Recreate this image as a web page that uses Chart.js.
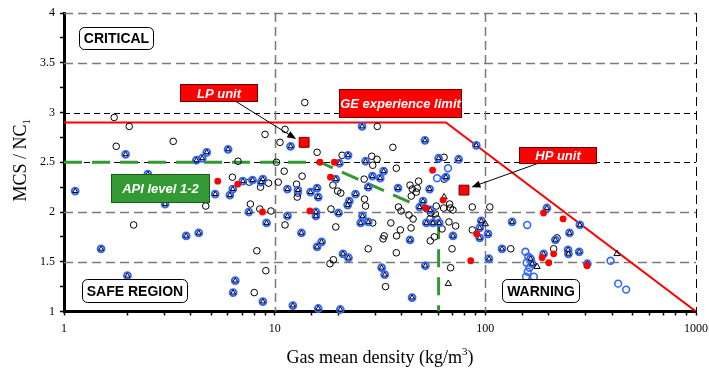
<!DOCTYPE html>
<html>
<head>
<meta charset="utf-8">
<script src="https://cdn.jsdelivr.net/npm/chart.js@4.4.0/dist/chart.umd.min.js"></script>
<style>
body{margin:0;background:#fff}
</style>
</head>
<body>
<canvas id="myChart" width="709" height="371"></canvas>
<script>
// points: [gas density, MCS/NC1]
const blackCircles = [
  [1.73,2.95],[2.04,2.86],[1.77,2.66],[3.3,2.71],[9.0,2.78],[10.6,2.70],[6.7,2.51],[10.2,2.50],[6.3,2.35],
  [7.57,2.30],[8.57,2.25],[9.35,2.29],[10.4,2.30],[4.71,2.06],[7.67,2.08],[8.5,2.03],[9.6,2.01],[2.14,1.87],
  [8.23,1.61],[9.08,1.41],[8.0,1.19],
  [13.9,3.10],[30.7,2.86],[11.2,2.83],[15.9,2.60],[20.9,2.57],[28.9,2.56],[30.6,2.53],[29.2,2.47],[11.1,2.41],
  [13.5,2.36],[12.7,2.28],[12.9,2.19],[12.8,2.15],[18.9,2.27],[19.9,2.21],[20.6,2.19],[26.6,2.33],[26.7,2.13],
  [27.0,2.06],[18.5,2.03],[11.2,1.87],[19.5,1.85],[29.2,1.89],[27.8,1.63],[19.0,1.52],[18.3,1.48],[33.6,1.25],
  [33.1,1.76],[32.7,1.73],
  [36.4,2.65],[37.8,2.44],[48.2,2.31],[45.0,2.23],[47.5,2.24],[47.0,2.20],[44.5,2.16],[38.7,2.05],[39.8,2.01],
  [43.4,1.97],[45.4,1.93],[35.6,1.89],[39.5,1.82],[37.9,1.76],[44.4,1.84],[37.8,1.59],[58.5,2.06],[52.8,2.03],
  [55.0,1.99],[57.9,1.98],[63.4,2.04],[67.7,2.08],[68.2,2.04],[70.2,2.02],[54.6,1.93],[59.0,1.93],[62.3,1.83],
  [67.2,1.90],[72.3,1.86],[57.3,1.75],[54.8,1.71],[69.5,1.63],[68.4,1.44],[86.7,2.05],[105,2.05],[86.7,1.82],
  [63.7,2.55],[63.7,2.33],[43.9,2.27],
  [219,1.74],[132,1.63],[211,1.63]
];
const blueTriangles = [
  [1.13,2.21],[1.96,2.58],[2.5,2.38],[3.02,2.08],[4.25,2.52],[4.53,2.54],[4.76,2.60],[6.01,2.63],[5.22,2.18],
  [6.13,2.17],[6.33,2.23],[7.06,2.31],[7.85,2.32],[8.63,2.30],[8.79,2.33],[7.54,2.0],[9.15,1.89],[3.8,1.76],
  [4.36,1.79],[1.5,1.63],[2.0,1.36],[6.5,1.31],[6.35,1.19],[8.79,1.10],
  [26.0,2.86],[11.9,2.66],[22.3,2.57],[20.3,2.49],[27.0,2.51],[32.9,2.41],[29.1,2.36],[31.7,2.34],[19.5,2.33],
  [27.8,2.25],[11.5,2.23],[12.9,2.22],[14.8,2.20],[15.9,2.24],[16.1,2.15],[24.2,2.18],[22.6,2.11],[22.2,2.07],
  [15.7,2.0],[15.7,1.96],[11.5,1.96],[20.1,1.99],[26.1,1.96],[25.6,1.89],[27.8,1.90],[13.4,1.79],[16.7,1.70],
  [15.9,1.65],[21.1,1.58],[22.4,1.54],[32.2,1.44],[33.3,1.37],[12.2,1.06],[16.1,1.03],[20.5,1.02],
  [51.7,2.72],[90.6,2.67],[60.0,2.54],[74.7,2.53],[65.0,2.35],[38.5,2.24],[54.4,2.23],[50.6,2.11],[48.8,2.05],
  [54.8,2.02],[52.5,1.89],[56.4,1.89],[60.4,1.89],[95.7,1.91],[94.0,1.84],[94.0,1.74],[103,1.78],[70.2,1.76],
  [43.9,1.72],[104,1.53],[51.9,1.46],[44.9,1.14],
  [196,2.04],[134,1.90],[281,1.87],[251,1.79],[215,1.72],[120,1.63],[247,1.62],[248,1.58],[279,1.60],
  [189,1.58],[305,1.48],[164,1.53],[167,1.48]
];
const blueCircles = [
  [66.5,2.44],[59,2.34],[158,1.87],[155,1.60],[160,1.55],[157,1.49],[159,1.40],[156,1.35],[170,1.35],
  [393,1.51],[427,1.28],[466,1.22],[162,1.44]
];
const blackTriangles = [[63.7,2.15],[66.7,1.28],[100,1.88],[422,1.58],[176,1.45]];
const redDots = [
  [5.37,2.31],[6.68,2.28],[8.75,2.0],[16.4,2.50],[19.2,2.50],[18.4,2.35],[14.7,2.01],[56.2,2.42],[52.1,2.04],
  [63,2.12],[91,1.78],[85.2,1.51],[189,1.99],[234,1.93],[211,1.58],[186,1.54],[200,1.49],[304,1.46]
];
const units = [[13.8,2.70],[79.2,2.22]];   // LP unit, HP unit
const geLimit = [[1,2.9],[65,2.9],[1000,1.0]];
const apiLimit = [[1,2.5],[16.4,2.5],[60,1.97],[60,1.0]];

const xTickLabels = ['1','10','100','1000'];
const yTickLabels = ['1','1.5','2','2.5','3','3.5','4'];

// label boxes, anchored in data units
const notes = [
  {text:'CRITICAL', x:1.77, y:3.75, w:74, h:22, kind:'plain'},
  {text:'SAFE REGION', x:2.16, y:1.21, w:105, h:23, kind:'plain'},
  {text:'WARNING', x:183.6, y:1.21, w:77, h:23, kind:'plain'},
  {text:'LP unit', x:5.42, y:3.20, w:77, h:17, kind:'red', arrow:[6.49,3.116,12.65,2.734]},
  {text:'GE experience limit', x:39.5, y:3.095, w:122, h:28, kind:'red'},
  {text:'HP unit', x:221, y:2.573, w:77, h:16, kind:'red', arrow:[178.6,2.49,85.9,2.25]},
  {text:'API level 1-2', x:2.86, y:2.24, w:98, h:28, kind:'green'}
];

function toPoints(arr){
  return arr.map(function(p){ return {x:p[0], y:p[1]}; });
}

const gridPlugin = {
  id: 'dashGrid',
  beforeDatasetsDraw(chart){
    const ctx = chart.ctx, a = chart.chartArea;
    const xs = chart.scales.x, ys = chart.scales.y;
    function hline(v, col, dash, w){
      const y = Math.round(ys.getPixelForValue(v)) + 0.5;
      ctx.beginPath(); ctx.strokeStyle = col; ctx.lineWidth = w; ctx.setLineDash(dash);
      ctx.moveTo(a.left, y); ctx.lineTo(a.right, y); ctx.stroke();
    }
    function vline(v, col, dash, w){
      const x = Math.round(xs.getPixelForValue(v)) + 0.5;
      ctx.beginPath(); ctx.strokeStyle = col; ctx.lineWidth = w; ctx.setLineDash(dash);
      ctx.moveTo(x, a.top); ctx.lineTo(x, a.bottom); ctx.stroke();
    }
    ctx.save();
    [1.5, 2, 3.5, 4].forEach(function(v){ hline(v, '#7a7a7a', [9,5], 1.5); });
    [2.5, 3].forEach(function(v){ hline(v, '#000', [6,4], 1); });
    [10, 100].forEach(function(v){ vline(v, '#7a7a7a', [9,5], 1.5); });
    vline(1000, '#000', [9,5], 1);
    ctx.restore();
  }
};

const notePlugin = {
  id: 'notes',
  afterDatasetsDraw(chart){
    const ctx = chart.ctx;
    const xs = chart.scales.x, ys = chart.scales.y;
    ctx.save();
    notes.forEach(function(n){
      if (n.arrow){
        const x1 = xs.getPixelForValue(n.arrow[0]), y1 = ys.getPixelForValue(n.arrow[1]);
        const x2 = xs.getPixelForValue(n.arrow[2]), y2 = ys.getPixelForValue(n.arrow[3]);
        const ang = Math.atan2(y2 - y1, x2 - x1);
        ctx.setLineDash([]);
        ctx.strokeStyle = '#000'; ctx.lineWidth = 1;
        ctx.beginPath(); ctx.moveTo(x1, y1); ctx.lineTo(x2 - 6*Math.cos(ang), y2 - 6*Math.sin(ang)); ctx.stroke();
        ctx.fillStyle = '#000';
        ctx.beginPath();
        ctx.moveTo(x2, y2);
        ctx.lineTo(x2 - 9*Math.cos(ang) + 3.5*Math.sin(ang), y2 - 9*Math.sin(ang) - 3.5*Math.cos(ang));
        ctx.lineTo(x2 - 9*Math.cos(ang) - 3.5*Math.sin(ang), y2 - 9*Math.sin(ang) + 3.5*Math.cos(ang));
        ctx.closePath(); ctx.fill();
      }
      const cx = xs.getPixelForValue(n.x), cy = ys.getPixelForValue(n.y);
      const l = Math.round(cx - n.w/2) + 0.5, t = Math.round(cy - n.h/2) + 0.5;
      ctx.setLineDash([]);
      ctx.lineWidth = 1;
      if (n.kind === 'plain'){
        ctx.fillStyle = '#fff'; ctx.strokeStyle = '#000';
        ctx.beginPath(); ctx.roundRect(l, t, n.w, n.h, 5); ctx.fill(); ctx.stroke();
        ctx.fillStyle = '#000';
        ctx.font = 'bold 14px "Liberation Sans", Arial, sans-serif';
      } else {
        ctx.fillStyle = n.kind === 'red' ? '#ff0000' : '#339933';
        ctx.strokeStyle = n.kind === 'red' ? '#6b0000' : '#1d5a1d';
        ctx.fillRect(l, t, n.w, n.h); ctx.strokeRect(l, t, n.w, n.h);
        ctx.fillStyle = '#fff';
        ctx.font = 'italic bold 13px "Liberation Sans", Arial, sans-serif';
      }
      ctx.textAlign = 'center'; ctx.textBaseline = 'middle';
      ctx.fillText(n.text, l + n.w/2, t + n.h/2 + 1);
    });
    ctx.restore();
  },
  afterDraw(chart){
    const ctx = chart.ctx, a = chart.chartArea;
    ctx.save();
    ctx.fillStyle = '#000';
    ctx.textBaseline = 'alphabetic';
    // x title with superscript
    const big = '18px "Liberation Serif", "Times New Roman", serif';
    const small = '11px "Liberation Serif", "Times New Roman", serif';
    ctx.font = big;
    const p1 = 'Gas mean density (kg/m', p3 = ')';
    ctx.font = small; const w2 = ctx.measureText('3').width;
    ctx.font = big;
    const w1 = ctx.measureText(p1).width, w3 = ctx.measureText(p3).width;
    let x = (a.left + a.right)/2 - (w1 + w2 + w3)/2;
    const by = 363;
    ctx.textAlign = 'left';
    ctx.fillText(p1, x, by);
    ctx.font = small; ctx.fillText('3', x + w1, by - 8);
    ctx.font = big; ctx.fillText(p3, x + w1 + w2, by);
    // y title with subscript
    ctx.translate(26, (a.top + a.bottom)/2 - 2);
    ctx.rotate(-Math.PI/2);
    const q1 = 'MCS / NC';
    const wq = ctx.measureText(q1).width;
    ctx.font = small; const ws = ctx.measureText('1').width;
    ctx.font = big;
    ctx.fillText(q1, -(wq + ws)/2, 0);
    ctx.font = small; ctx.fillText('1', -(wq + ws)/2 + wq, 4);
    ctx.restore();
  }
};

const tickFont = {family: '"Liberation Serif", "Times New Roman", serif', size: 12};

const config = {
  type: 'scatter',
  data: {
    datasets: [
      {data: toPoints(units), pointStyle: 'rect', pointRadius: 7, backgroundColor: '#ff0000', borderColor: '#6b0000', borderWidth: 1, clip: false},
      {data: toPoints(redDots), pointStyle: 'circle', pointRadius: 3.4, backgroundColor: '#ff0000', borderColor: '#ff0000', borderWidth: 0, clip: false},
      {data: toPoints(blackTriangles), pointStyle: 'triangle', pointRadius: 3.6, backgroundColor: 'rgba(0,0,0,0)', borderColor: '#000', borderWidth: 1, clip: false},
      {data: toPoints(blueTriangles), pointStyle: 'triangle', pointRadius: 2.8, backgroundColor: '#fff', borderColor: '#000', borderWidth: 1, clip: false},
      {data: toPoints(blueTriangles), pointStyle: 'circle', pointRadius: 3.4, backgroundColor: 'rgba(0,0,0,0)', borderColor: '#3366ff', borderWidth: 2, clip: false},
      {data: toPoints(blueCircles), pointStyle: 'circle', pointRadius: 3.4, backgroundColor: 'rgba(0,0,0,0)', borderColor: '#3366ff', borderWidth: 1.6, clip: false},
      {data: toPoints(blackCircles), pointStyle: 'circle', pointRadius: 3.3, backgroundColor: 'rgba(0,0,0,0)', borderColor: '#000', borderWidth: 1, clip: false},
      {data: toPoints(geLimit), showLine: true, pointRadius: 0, borderColor: '#ff0000', borderWidth: 2},
      {data: toPoints(apiLimit), showLine: true, pointRadius: 0, borderColor: '#339933', borderWidth: 3, borderDash: [18,10]}
    ]
  },
  options: {
    responsive: false,
    animation: false,
    layout: {padding: {top: 13, right: 13, left: 0, bottom: 0}},
    plugins: {legend: {display: false}, tooltip: {enabled: false}},
    scales: {
      x: {
        type: 'logarithmic', min: 1, max: 1000,
        afterFit: function(s){ s.height = 59.5; s.paddingLeft = 0; s.paddingRight = 0; },
        border: {color: '#000', width: 3},
        grid: {drawOnChartArea: false, drawTicks: true, tickLength: 4, tickColor: '#000', tickWidth: 1.5},
        ticks: {
          autoSkip: false, maxRotation: 0, padding: 6, color: '#000', font: tickFont,
          callback: function(v){ return xTickLabels.includes(String(v)) ? String(v) : ''; }
        }
      },
      y: {
        min: 1, max: 4,
        afterFit: function(s){ s.width = 64; s.paddingTop = 0; s.paddingBottom = 0; },
        border: {color: '#000', width: 3},
        grid: {drawOnChartArea: false, drawTicks: true, tickLength: 4, tickColor: '#000', tickWidth: 1.5},
        ticks: {
          stepSize: 0.25, autoSkip: false, padding: 5, color: '#000', font: tickFont,
          callback: function(v){ return yTickLabels.includes(String(v)) ? String(v) : ''; }
        }
      }
    }
  },
  plugins: [gridPlugin, notePlugin]
};

const myChart = new Chart(document.getElementById('myChart'), config);
</script>
</body>
</html>
